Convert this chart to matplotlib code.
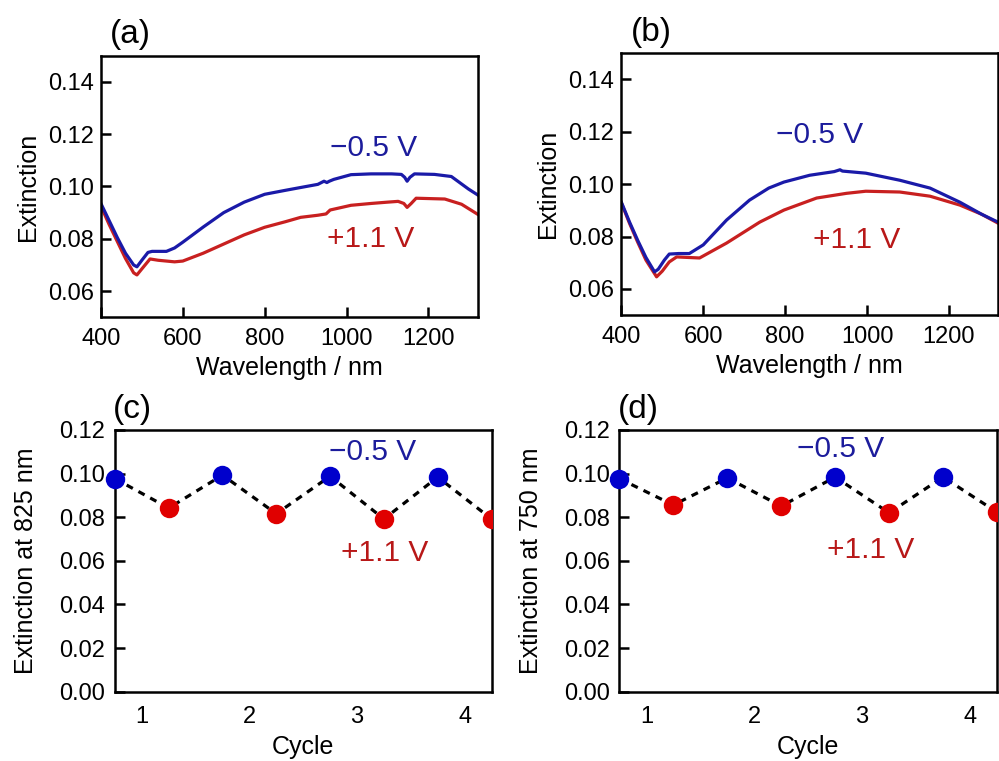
import numpy as np
import matplotlib
matplotlib.use('Agg')
import matplotlib.pyplot as plt

plt.rcParams['font.family'] = ['Liberation Sans', 'DejaVu Sans']

# ---- data ----
# (a) spectra
wl_a_neg = [400, 420, 440, 460, 480, 488, 500, 515, 525, 560, 580, 600, 650, 700, 750, 800,
            850, 888, 930, 945, 952, 958, 969, 1011, 1060, 1110, 1134, 1142, 1148, 1155,
            1166, 1215, 1256, 1298, 1320]
ext_a_neg = [0.0935, 0.0870, 0.0805, 0.0745, 0.0700, 0.0693, 0.0718, 0.0748, 0.0752, 0.0752,
             0.0765, 0.0787, 0.0845, 0.0900, 0.0940, 0.0970, 0.0985, 0.0996, 0.1008, 0.1020,
             0.1015, 0.1020, 0.1027, 0.1045, 0.1048, 0.1048, 0.1046, 0.1035, 0.1020, 0.1035,
             0.1048, 0.1046, 0.1038, 0.0990, 0.0968]
wl_a_pos = [400, 420, 440, 460, 480, 488, 500, 520, 540, 580, 600, 650, 700, 750, 800, 850,
            888, 930, 950, 960, 1011, 1060, 1100, 1126, 1140, 1148, 1158, 1170, 1240, 1281, 1320]
ext_a_pos = [0.0925, 0.0855, 0.0790, 0.0725, 0.0670, 0.0662, 0.0685, 0.0723, 0.0718, 0.0712,
             0.0715, 0.0745, 0.0780, 0.0815, 0.0844, 0.0865, 0.0882, 0.0890, 0.0895, 0.0910,
             0.0928, 0.0935, 0.0940, 0.0943, 0.0935, 0.0920, 0.0935, 0.0955, 0.0952, 0.0932, 0.0894]

# (b) spectra
wl_b_neg = [400, 420, 440, 460, 481, 490, 505, 517, 540, 566, 600, 657, 713, 760, 797, 860,
            920, 934, 940, 997, 1080, 1154, 1227, 1280, 1320]
ext_b_neg = [0.0931, 0.0855, 0.0785, 0.0720, 0.0665, 0.0675, 0.0710, 0.0733, 0.0735, 0.0735,
             0.0768, 0.0863, 0.0939, 0.0985, 0.1008, 0.1034, 0.1048, 0.1055, 0.1050, 0.1042,
             0.1015, 0.0985, 0.0931, 0.0885, 0.0855]
wl_b_pos = [400, 420, 440, 460, 486, 500, 517, 535, 591, 657, 738, 797, 877, 950, 997, 1080,
            1154, 1227, 1280, 1320]
ext_b_pos = [0.0928, 0.0850, 0.0778, 0.0710, 0.0646, 0.0668, 0.0703, 0.0722, 0.0718, 0.0775,
             0.0855, 0.0901, 0.0947, 0.0965, 0.0973, 0.0970, 0.0954, 0.0920, 0.0885, 0.0851]

# (c), (d) cycling
cycle_neg = [0.75, 1.75, 2.75, 3.75]
cycle_pos = [1.25, 2.25, 3.25, 4.25]
c_neg = [0.0977, 0.0993, 0.0988, 0.0984]
c_pos = [0.0842, 0.0816, 0.0792, 0.0792]
d_neg = [0.0977, 0.0980, 0.0984, 0.0984]
d_pos = [0.0856, 0.0851, 0.0820, 0.0823]

blue_line = '#1a1aa8'
red_line = '#c82020'
blue_txt = '#1c1c9c'
red_txt = '#b81818'
blue_dot = '#0000cc'
red_dot = '#e00000'

fig = plt.figure(figsize=(9.99, 7.61), dpi=100)
ax_a = fig.add_axes([0.101, 0.583, 0.377, 0.344])
ax_b = fig.add_axes([0.622, 0.586, 0.377, 0.344])
ax_c = fig.add_axes([0.115, 0.091, 0.377, 0.344])
ax_d = fig.add_axes([0.620, 0.091, 0.378, 0.344])


def style(ax):
    for s in ax.spines.values():
        s.set_linewidth(1.8)
    ax.tick_params(direction='in', length=7, width=1.8, labelsize=17,
                   top=False, right=False)
    ax.tick_params(axis='x', pad=8)
    ax.tick_params(axis='y', pad=5)


for ax, (wn, en, wp, ep), label in [
        (ax_a, (wl_a_neg, ext_a_neg, wl_a_pos, ext_a_pos), '(a)'),
        (ax_b, (wl_b_neg, ext_b_neg, wl_b_pos, ext_b_pos), '(b)')]:
    ax.plot(wp, ep, color=red_line, lw=2.3)
    ax.plot(wn, en, color=blue_line, lw=2.3)
    ax.set_xlim(400, 1320)
    ax.set_ylim(0.05, 0.15)
    ax.set_xticks([400, 600, 800, 1000, 1200])
    ax.set_yticks([0.06, 0.08, 0.10, 0.12, 0.14])
    ax.set_xlabel('Wavelength / nm', fontsize=18, labelpad=4)
    ax.set_ylabel('Extinction', fontsize=18, labelpad=6)
    ax.text(0.025, 1.02, label, fontsize=24, transform=ax.transAxes, ha='left', va='bottom')
    style(ax)

ax_a.text(1065, 0.1148, '\u22120.5 V', color=blue_txt, fontsize=21.5, ha='center', va='center')
ax_a.text(1060, 0.0799, '+1.1 V', color=red_txt, fontsize=21.5, ha='center', va='center')
ax_b.text(885, 0.1187, '\u22120.5 V', color=blue_txt, fontsize=21.5, ha='center', va='center')
ax_b.text(975, 0.0787, '+1.1 V', color=red_txt, fontsize=21.5, ha='center', va='center')

for ax, neg, pos, nm, label in [(ax_c, c_neg, c_pos, 825, '(c)'),
                                (ax_d, d_neg, d_pos, 750, '(d)')]:
    xs = sorted(cycle_neg + cycle_pos)
    ys = [v for pair in zip(neg, pos) for v in pair]
    ax.plot(xs, ys, color='black', lw=2.3, ls=(0, (2.2, 2.0)), zorder=2)
    ax.plot(cycle_neg, neg, 'o', color=blue_dot, ms=14, mec='none', zorder=3, clip_on=False)
    ax.plot(cycle_pos, pos, 'o', color=red_dot, ms=14, mec='none', zorder=3)
    ax.set_xlim(0.75, 4.25)
    ax.set_ylim(0, 0.12)
    ax.set_xticks([1, 2, 3, 4])
    ax.set_yticks(np.arange(0, 0.121, 0.02))
    ax.set_yticklabels(['%.2f' % v for v in np.arange(0, 0.121, 0.02)])
    ax.set_xlabel('Cycle', fontsize=18, labelpad=5)
    ax.set_ylabel('Extinction at %d nm' % nm, fontsize=18, labelpad=15)
    ax.text(-0.005, 1.02, label, fontsize=24, transform=ax.transAxes, ha='left', va='bottom')
    style(ax)
    ax.tick_params(axis='x', length=0, pad=10)
    ax.tick_params(axis='y', pad=7)

ax_c.text(3.145, 0.1098, '\u22120.5 V', color=blue_txt, fontsize=21.5, ha='center', va='center')
ax_c.text(3.26, 0.0637, '+1.1 V', color=red_txt, fontsize=21.5, ha='center', va='center')
ax_d.text(2.80, 0.1115, '\u22120.5 V', color=blue_txt, fontsize=21.5, ha='center', va='center')
ax_d.text(3.08, 0.0650, '+1.1 V', color=red_txt, fontsize=21.5, ha='center', va='center')

fig.savefig('out.png', dpi=100)
